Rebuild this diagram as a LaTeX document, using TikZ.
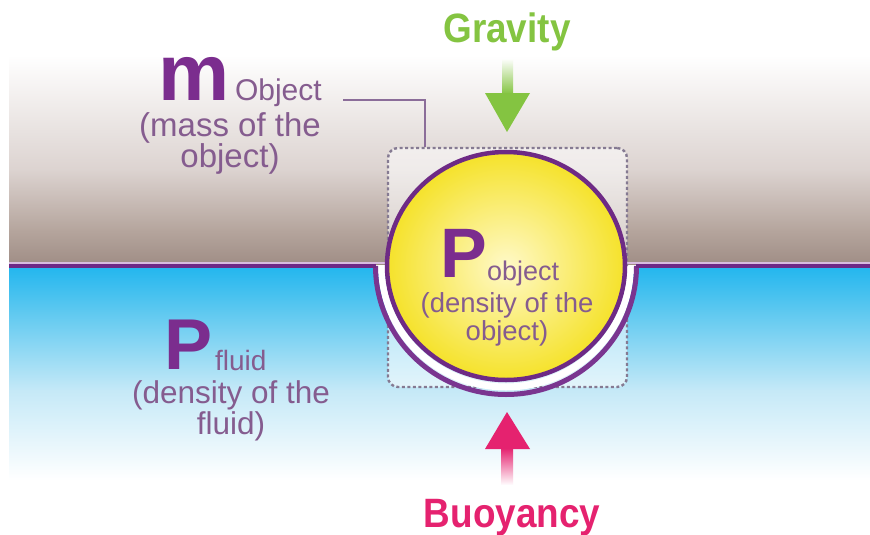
\documentclass[tikz,border=0pt]{standalone}
\usepackage{fontspec}
\setmainfont{Liberation Sans}
\newfontfamily\condf[FakeStretch=0.9]{Liberation Sans}
\usetikzlibrary{shapes.geometric}
\definecolor{sky1}{HTML}{DCD3D0}
\definecolor{sky2}{HTML}{B5A59D}
\definecolor{sky3}{HTML}{A08E86}
\definecolor{wat0}{HTML}{22B6EE}
\definecolor{wat1}{HTML}{5CC8F0}
\definecolor{wat2}{HTML}{C5E9F7}
\definecolor{lavband}{HTML}{D8BCDF}
\definecolor{linepurple}{HTML}{6E2A85}
\definecolor{ringpurple}{HTML}{7A3590}
\definecolor{bigpurple}{HTML}{7B2D8E}
\definecolor{txtpurple}{HTML}{855C8F}
\definecolor{boxgray}{HTML}{857A92}
\definecolor{callout}{HTML}{8B6D99}
\definecolor{gravgreen}{HTML}{84C441}
\definecolor{buoypink}{HTML}{E5226F}
\definecolor{yelin}{HTML}{FFF9C8}
\definecolor{yelout}{HTML}{F5E22A}
\tikzset{
  lbl/.style={inner sep=0pt, outer sep=0pt, text=txtpurple, align=center},
  bigletter/.style={inner sep=0pt, outer sep=0pt, text=bigpurple, font=\bfseries\fontsize{#1}{#1}\selectfont},
  forcelbl/.style={inner sep=0pt, outer sep=0pt, font=\condf\bfseries\fontsize{#1}{#1}\selectfont},
  dashbox/.style={draw=boxgray, line width=2.4pt, dash pattern=on 3pt off 2.5pt, rounded corners=10pt, fill=white, fill opacity=0.55, draw opacity=1},
}
\begin{document}
\begin{tikzpicture}[x=1pt,y=-1pt]
\useasboundingbox (0,0) rectangle (870,535);
\fill[white] (0,0) rectangle (870,535);
% air background
\shade[top color=white,bottom color=sky1] (9,55) rectangle (870,170.5);
\shade[top color=sky1,bottom color=sky2] (9,170) rectangle (870,230.5);
\shade[top color=sky2,bottom color=sky3] (9,230) rectangle (870,264);
% water background
\shade[top color=wat0,bottom color=wat1] (9,266) rectangle (870,310.5);
\shade[top color=wat1,bottom color=wat2] (9,310) rectangle (870,390.5);
\shade[top color=wat2,bottom color=white] (9,390) rectangle (870,480);
\draw[lavband, line width=2pt] (9,262.5) -- (870,262.5);
% dashed box
\node[dashbox, minimum width=239pt, minimum height=239pt, inner sep=0pt] (box) at (507.5,267.5) {};
% outer ring below water
\draw[white, line width=7pt] (381.5,266) arc[start angle=180, end angle=360, x radius=124.5pt, y radius=121pt];
\draw[ringpurple, line width=5pt] (375.5,266) arc[start angle=180, end angle=360, x radius=130.5pt, y radius=128.5pt];
% waterline
\draw[linepurple, line width=4pt] (9,266) -- (376,266);
\draw[linepurple, line width=4pt] (636,266) -- (870,266);
% object
\shade[inner color=yelin, outer color=yelout] (506,266) ellipse [x radius=119pt, y radius=114pt];
\node[ellipse, draw=linepurple, line width=4.5pt, minimum width=238pt, minimum height=228pt, inner sep=0pt] (obj) at (506,266) {};
% callout
\coordinate (c1) at (343,100);
\coordinate (c2) at (425,147);
\draw[callout, line width=1.5pt] (c1) -| (c2);
% gravity arrow
\coordinate (gtip) at (507,132);
\shade[top color=gravgreen!5, bottom color=gravgreen] (502,60) rectangle (513,94);
\fill[gravgreen] (485,93) -- (530,93) -- (gtip) -- cycle;
% buoyancy arrow
\coordinate (btip) at (507,412);
\shade[top color=buoypink, bottom color=buoypink!3] (501,448) rectangle (513,484);
\fill[buoypink] (485,449) -- (530,449) -- (btip) -- cycle;
% labels
\node[forcelbl=41, text=gravgreen, anchor=base] (grav) at (507,43) {Gravity};
\node[forcelbl=41, text=buoypink, anchor=base] (buoy) at (512,527) {Buoyancy};
\node[bigletter=80, anchor=base west] (m) at (158,100) {m};
\node[lbl, anchor=base west, font=\fontsize{30}{30}\selectfont] (mobj) at (235,100) {Object};
\node[lbl, anchor=base, font=\fontsize{33}{31}\selectfont] (mass) at (230,167) {(mass of the\\object)};
\node[bigletter=70, anchor=base west] (pobj) at (440,277) {P};
\node[lbl, anchor=base west, font=\fontsize{27}{27}\selectfont] (pobjsub) at (487,280) {object};
\node[lbl, anchor=base, font=\fontsize{27.5}{28}\selectfont] (dens) at (507,340) {(density of the\\object)};
\node[bigletter=72, anchor=base west] (pfl) at (164.5,369) {P};
\node[lbl, anchor=base west, font=\fontsize{28}{28}\selectfont] (pflsub) at (215,370) {fluid};
\node[lbl, anchor=base, font=\fontsize{31.5}{28}\selectfont] (densfl) at (231,434) {(density of the\\fluid)};
\end{tikzpicture}
\end{document}
